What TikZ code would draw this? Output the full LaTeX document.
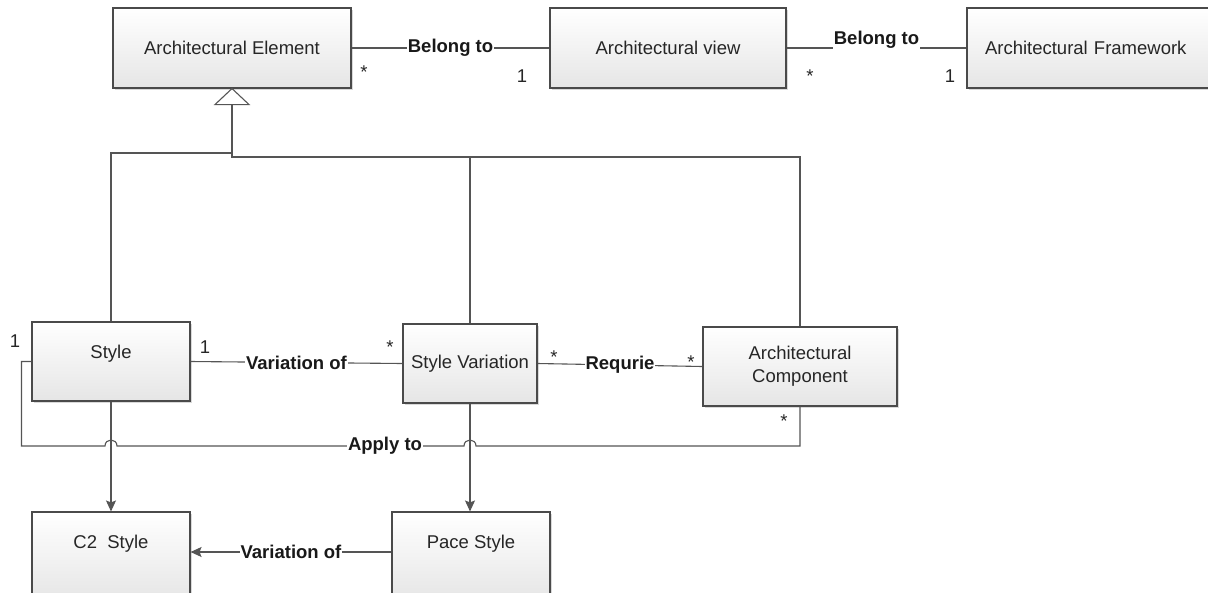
\documentclass[tikz,border=0pt]{standalone}
\usepackage{fontspec}
\setmainfont{Liberation Sans}
\usetikzlibrary{arrows.meta,shadows}

\definecolor{edge}{HTML}{4A4A4A}
\definecolor{wire}{HTML}{555555}

\tikzset{
  umlbox/.style={draw=edge, line width=1.1pt, rectangle, inner sep=2pt,
    top color=white, bottom color=white!90!black,
    drop shadow={shadow xshift=2pt, shadow yshift=-2pt, fill=black, opacity=.15},
    font=\fontsize{18.5}{23}\selectfont, text=black!85, align=center},
  hightext/.style={text depth=19pt},
  tallbox/.style={text depth=30pt, minimum width=158, minimum height=90},
  conn/.style={draw=wire, line width=1.1pt},
  arr/.style={conn, -{Stealth[length=11pt, width=10pt, inset=2pt]}},
  lbl/.style={fill=white, inner xsep=1pt, inner ysep=2pt,
    font=\fontsize{18.5}{22}\selectfont\bfseries, text=black!90},
  mult/.style={inner sep=0pt, font=\fontsize{18.5}{22}\selectfont, text=black!85},
}

\begin{document}
\begin{tikzpicture}[x=1pt, y=-1pt]
\useasboundingbox (0,0) rectangle (1208,592);
\clip (0,0) rectangle (1208,592);

% classes
\node[umlbox, minimum width=238, minimum height=80] (ae) at (232,48) {Architectural Element};
\node[umlbox, minimum width=236, minimum height=80] (av) at (668,48) {Architectural view};
\node[umlbox, minimum width=250, minimum height=80, text width=218, align=left] (af) at (1092,48) {\hspace*{2pt}Architectural Framework};

\node[umlbox, hightext, minimum width=158, minimum height=79] (style) at (111,361.5) {Style};
\node[umlbox, minimum width=134, minimum height=79] (sv) at (470,363.5) {Style Variation};
\node[umlbox, minimum width=194, minimum height=79] (ac) at (800,366.5) {Architectural\\Component};

\node[umlbox, tallbox] (c2) at (111,557) {C2\ \ Style};
\node[umlbox, tallbox] (ps) at (471,557) {Pace Style};

% generalisation towards Architectural Element
\coordinate (genbase) at (232,105);
\coordinate (busR) at (232,157);
\coordinate (busL) at (232,153);
\draw[conn] (genbase) -- (busR) -| (ac.north);
\draw[conn] (busL) -| (style.north);
\draw[conn] (sv.north) -- (sv.north |- busR);
\draw[conn, fill=white, line join=miter] (ae.south) -- ++(-17,16) -- ++(34,0) -- cycle;

% associations
\draw[conn] (ae.east) -- node[lbl] (b1) {Belong to} (av.west);
\draw[conn] (av.east) -- node[lbl, yshift=8pt] (b2) {Belong to} (af.west);
\draw[conn] (style.east) -- node[lbl] (v1) {Variation of} (sv.west);
\draw[conn] (sv.east) -- node[lbl] (rq) {Requrie} (ac.west);

% "Apply to" with line hops over the two arrows
\draw[conn] (style.west) -- ++(-10,0) |- (105,446)
  .. controls (105,438) and (117,438) .. (117,446) -- (464,446)
  .. controls (464,438) and (476,438) .. (476,446) -| (ac.south);
\node[lbl] (ap) at (385,446) {Apply to};

% directed links
\draw[arr] (style.south) -- (c2.north);
\draw[arr] (sv.south) -- (sv.south |- ps.north);
\draw[arr] ([yshift=5pt]ps.west) -- node[lbl] (v2) {Variation of} ([yshift=5pt]c2.east);

% multiplicities
\node[mult] (m1) at (364,72) {*};
\node[mult] (m2) at (522,76) {1};
\node[mult] (m3) at (810,76) {*};
\node[mult] (m4) at (950,76) {1};
\node[mult] (m5) at (15,341) {1};
\node[mult] (m6) at (205,347) {1};
\node[mult] (m7) at (390,347) {*};
\node[mult] (m8) at (554,357) {*};
\node[mult] (m9) at (691,362) {*};
\node[mult] (m10) at (784,421) {*};
\end{tikzpicture}
\end{document}
